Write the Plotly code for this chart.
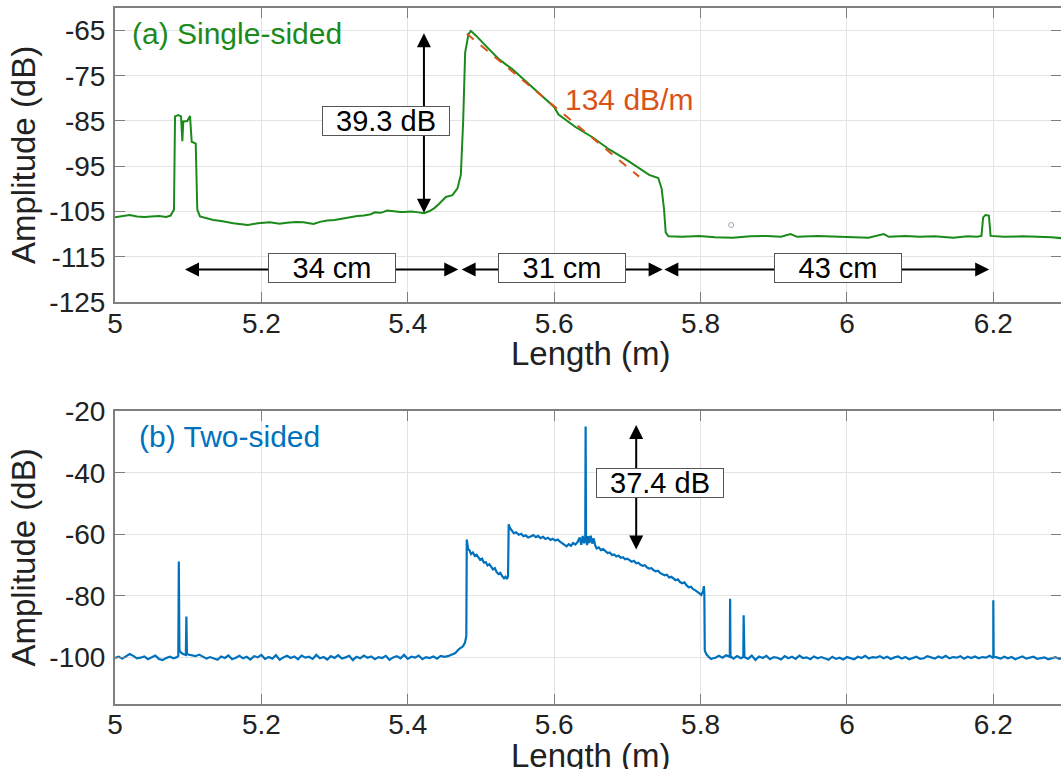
import numpy as np
import plotly.graph_objects as go

# ---------------- data ----------------
# (a) single-sided trace: (length m, amplitude dB)
single_sided = [
    (5.000, -106.3), (5.010, -106.0), (5.020, -105.8), (5.030, -106.1), (5.040, -106.2),
    (5.050, -106.1), (5.060, -106.0), (5.070, -106.2), (5.076, -105.9), (5.0795, -104.9),
    (5.0806, -104.6), (5.0820, -84.0), (5.0865, -83.7), (5.0902, -84.0), (5.0920, -89.5),
    (5.0933, -85.1), (5.0988, -85.0), (5.1025, -83.9), (5.1048, -89.6), (5.1103, -90.0),
    (5.1124, -104.6), (5.1161, -106.1), (5.125, -106.5), (5.1343, -106.9), (5.145, -107.1),
    (5.1616, -107.6), (5.1816, -108.0), (5.195, -107.6), (5.2115, -107.4), (5.225, -107.7),
    (5.2345, -107.5), (5.2475, -107.3), (5.2575, -107.4), (5.2713, -107.75), (5.280, -107.3),
    (5.2897, -107.0), (5.300, -106.9), (5.3126, -106.5), (5.320, -106.3), (5.331, -106.0),
    (5.340, -105.9), (5.3494, -105.6), (5.355, -105.2), (5.3632, -105.3), (5.372, -104.8),
    (5.3816, -105.0), (5.390, -105.1), (5.3954, -105.1), (5.405, -105.0), (5.415, -105.2),
    (5.4221, -105.4), (5.430, -104.9), (5.4368, -104.2), (5.4429, -103.3), (5.452, -101.8),
    (5.4611, -101.4), (5.4679, -99.9), (5.4725, -96.9), (5.4757, -85.0), (5.4784, -69.9),
    (5.4830, -65.8), (5.4861, -65.1), (5.4930, -66.1), (5.5066, -68.4), (5.5249, -71.4),
    (5.5431, -73.6), (5.5613, -76.3), (5.5795, -78.9), (5.6000, -81.9), (5.6060, -83.6),
    (5.6114, -84.2), (5.6296, -86.4), (5.6524, -88.6), (5.6752, -91.3), (5.6980, -93.5),
    (5.7161, -95.4), (5.7298, -96.9), (5.7422, -97.6), (5.7468, -99.9), (5.7501, -104.4),
    (5.7524, -109.6), (5.7561, -110.5), (5.7750, -110.6), (5.7978, -110.4), (5.8200, -110.7),
    (5.8441, -110.8), (5.8680, -110.5), (5.8904, -110.4), (5.9100, -110.6), (5.9229, -110.0),
    (5.9321, -110.6), (5.9600, -110.4), (5.9831, -110.5), (6.0050, -110.7), (6.0295, -110.8),
    (6.0503, -110.0), (6.0573, -110.6), (6.0800, -110.4), (6.0990, -110.6), (6.1200, -110.5),
    (6.1453, -110.8), (6.1650, -110.5), (6.1777, -110.6), (6.1838, -110.4), (6.1861, -106.3),
    (6.1893, -105.8), (6.1940, -105.9), (6.1963, -110.4), (6.2148, -110.6), (6.2400, -110.5),
    (6.2611, -110.6), (6.2800, -110.7), (6.3000, -111.0),
]
# linear fit (dashed) end points
fit_x = [5.4807, 5.7161]
fit_y = [-65.75, -97.3]
stray_x = [5.8419]
stray_y = [-108.0]

# (b) two-sided trace
base_step = 0.005
base_a_start = 5.000
base_a_y = [-100.2, -99.8, -100.4, -99.6, -98.9, -99.5, -100.3, -100.1, -99.7, -100.6,
            -100.0, -99.4, -100.5, -100.9, -100.2, -99.8, -100.3, -99.9]
spikes_a = [(5.0865, -99.5), (5.0872, -68.8), (5.0880, -97.6), (5.0900, -98.4), (5.0930, -98.9),
            (5.0968, -99.2), (5.0975, -86.7), (5.0983, -98.6), (5.1000, -99.1)]
base_b_start = 5.105
base_b_y = [-99.3, -99.6, -99.1, -99.8, -100.4, -99.9, -100.3, -100.8, -99.7, -100.2,
            -99.4, -100.6, -100.1, -99.5, -100.3, -99.8, -100.7, -99.6, -100.0, -99.2,
            -100.5, -99.9, -100.4, -99.3, -100.8, -100.0, -99.5, -100.2, -99.7, -100.6,
            -99.4, -100.1, -99.8, -100.5, -99.2, -100.3, -99.9, -100.7, -99.6, -100.2,
            -99.3, -100.4, -100.0, -99.5, -100.9, -99.8, -100.3, -99.4, -100.1, -99.7,
            -100.6, -99.9, -100.2, -99.5, -100.8, -100.0, -99.6, -100.3, -99.2, -100.5,
            -99.8, -100.1, -99.4, -100.6, -99.9, -100.2, -99.7, -100.4, -99.5, -99.8,
            -99.6, -99.2, -98.6, -97.3]
grating = [
    (5.4755, -96.4), (5.4782, -95.2), (5.4800, -93.0), (5.4806, -61.7), (5.4825, -64.8),
    (5.4845, -65.2), (5.4865, -66.4), (5.4890, -65.9), (5.4915, -67.0), (5.4940, -66.6),
    (5.4966, -67.6), (5.4990, -68.3), (5.5015, -67.9), (5.5040, -69.2), (5.5065, -69.0),
    (5.5090, -70.1), (5.5115, -69.7), (5.5140, -70.8), (5.5165, -71.4), (5.5190, -71.0),
    (5.5215, -72.3), (5.5240, -72.9), (5.5265, -72.5), (5.5290, -73.6), (5.5315, -74.3),
    (5.5335, -73.8), (5.5355, -74.5), (5.5370, -73.6), (5.5379, -56.7), (5.5395, -57.9),
    (5.5425, -58.9), (5.5450, -59.6), (5.5480, -59.3), (5.5517, -60.1), (5.5550, -59.8),
    (5.5580, -60.6), (5.5610, -60.3), (5.5645, -61.0), (5.5680, -60.7), (5.5715, -60.2),
    (5.5750, -60.9), (5.5780, -60.5), (5.5815, -61.2), (5.5850, -60.8), (5.5880, -61.5),
    (5.5915, -61.1), (5.5950, -61.8), (5.5980, -61.4), (5.6015, -62.0), (5.6050, -61.7),
    (5.6080, -62.4), (5.6110, -62.9), (5.6140, -63.6), (5.6170, -63.9), (5.6200, -63.2),
    (5.6230, -63.7), (5.6260, -62.8), (5.6290, -63.3), (5.6320, -62.5), (5.6350, -61.0),
    (5.6370, -63.4), (5.6390, -60.5), (5.6410, -62.9), (5.6425, -61.2), (5.6430, -24.9),
    (5.6436, -61.0), (5.6450, -63.5), (5.6465, -60.6), (5.6480, -62.8), (5.6500, -60.4),
    (5.6520, -63.0), (5.6540, -61.3), (5.6560, -63.5), (5.6580, -64.6), (5.6610, -64.2),
    (5.6640, -65.1), (5.6670, -64.8), (5.6700, -65.6), (5.6730, -66.1), (5.6760, -65.9),
    (5.6790, -66.7), (5.6820, -66.5), (5.6850, -67.2), (5.6880, -66.9), (5.6910, -67.6),
    (5.6940, -67.4), (5.6970, -68.1), (5.7000, -67.9), (5.7030, -68.5), (5.7060, -68.9),
    (5.7090, -68.6), (5.7120, -69.4), (5.7150, -69.2), (5.7180, -69.9), (5.7210, -70.2),
    (5.7240, -70.0), (5.7270, -70.8), (5.7300, -71.1), (5.7330, -71.0), (5.7360, -71.7),
    (5.7390, -72.0), (5.7420, -71.8), (5.7450, -72.6), (5.7480, -72.9), (5.7510, -73.3),
    (5.7540, -73.1), (5.7570, -74.0), (5.7600, -73.8), (5.7630, -74.4), (5.7660, -74.9),
    (5.7690, -74.6), (5.7720, -75.5), (5.7750, -75.9), (5.7780, -75.6), (5.7810, -76.6),
    (5.7840, -77.2), (5.7870, -77.0), (5.7900, -77.8), (5.7930, -78.2), (5.7960, -78.9),
    (5.7990, -79.3), (5.8010, -79.7), (5.8035, -78.5), (5.8046, -76.8), (5.8052, -79.5),
    (5.8058, -97.8), (5.8080, -99.0), (5.8110, -99.8), (5.8145, -100.5), (5.8180, -100.2),
]
base_c_start = 5.820
base_c_y = [-100.2, -99.5, -100.1, -99.3, -99.8, -100.4, -99.6, -100.3, -99.9, -100.5,
            -99.4, -100.8, -99.7, -100.2, -99.5, -100.6, -99.9, -100.1, -100.7, -99.6,
            -100.3, -99.8, -100.5, -99.4, -100.2, -100.0, -100.6, -99.7, -100.3, -99.9,
            -100.4, -100.8, -99.8, -100.5, -100.1, -100.7, -99.9, -100.3, -100.6, -99.8,
            -100.2, -99.5, -100.4, -99.9, -100.1, -99.6, -100.3, -99.8, -100.5, -100.0,
            -99.7, -100.4, -99.9, -100.6, -100.2, -99.8, -100.5, -100.3, -99.6, -100.1,
            -100.4, -99.7, -100.2, -99.5, -100.3, -99.9, -100.1, -99.6, -100.4, -99.8,
            -100.2, -99.7, -100.3, -99.9, -100.1, -99.5, -100.2, -100.0, -100.4, -99.8,
            -100.3, -99.9, -100.6, -100.1, -99.7, -100.4, -100.2, -99.8, -100.5, -100.3,
            -100.0, -100.6, -100.2, -99.9, -100.5, -100.1, -100.4]
spikes_c = [(5.8399, -99.8), (5.8404, -80.9), (5.8409, -99.6),
            (5.8584, -99.9), (5.8589, -86.3), (5.8594, -99.7),
            (6.1995, -100.0), (6.2000, -81.4), (6.2005, -99.8)]

# axes ticks
x_ticks = [5.0, 5.2, 5.4, 5.6, 5.8, 6.0, 6.2]
x_ticklabels = ["5", "5.2", "5.4", "5.6", "5.8", "6", "6.2"]
ya_ticks = [-125, -115, -105, -95, -85, -75, -65]
ya_ticklabels = ["-125", "-115", "-105", "-95", "-85", "-75", "-65"]
yb_ticks = [-100, -80, -60, -40, -20]
yb_ticklabels = ["-100", "-80", "-60", "-40", "-20"]

# annotation texts
label_a = "(a) Single-sided"
label_b = "(b) Two-sided"
slope_text = "134 dB/m"
dr_a_text = "39.3 dB"
dr_b_text = "37.4 dB"
span_texts = ["34 cm", "31 cm", "43 cm"]
x_title = "Length (m)"
y_title = "Amplitude (dB)"

# ---------------- assemble ----------------
def seg(start, ys):
    xs = np.round(start + base_step * np.arange(len(ys)), 4)
    return list(zip(xs.tolist(), ys))

two_sided = (seg(base_a_start, base_a_y) + spikes_a + seg(base_b_start, base_b_y) + grating
             + seg(base_c_start, base_c_y) + spikes_c)
two_sided.sort(key=lambda p: p[0])

GREEN = "#1a8a1a"
BLUE = "#0072BD"
ORANGE = "#D95319"
AXC = "#7f7f7f"
TXT = "#222222"
FONT = "Liberation Sans, Arial, Helvetica, sans-serif"

fig = go.Figure()
fig.add_trace(go.Scatter(x=[p[0] for p in single_sided], y=[p[1] for p in single_sided],
                         mode="lines", line=dict(color=GREEN, width=2), xaxis="x", yaxis="y"))
fig.add_trace(go.Scatter(x=fit_x, y=fit_y, mode="lines",
                         line=dict(color=ORANGE, width=2, dash="dash"), xaxis="x", yaxis="y"))
fig.add_trace(go.Scatter(x=stray_x, y=stray_y, mode="markers",
                         marker=dict(symbol="circle-open", size=5, color="#a0a8c0", line=dict(width=1)),
                         xaxis="x", yaxis="y"))
fig.add_trace(go.Scatter(x=[p[0] for p in two_sided], y=[p[1] for p in two_sided],
                         mode="lines", line=dict(color=BLUE, width=2.2), xaxis="x2", yaxis="y2"))

W, H = 1061, 769
XL = 115 / W
XR = 1.0
XRANGE = [5.0, 6.2925]

common_x = dict(domain=[XL, XR], range=XRANGE, tickvals=x_ticks, ticktext=x_ticklabels,
                ticks="inside", ticklen=10, tickwidth=1, tickcolor=AXC, automargin=False,
                showline=True, linecolor=AXC, linewidth=2, mirror="ticks",
                showgrid=True, gridcolor="#e3e3e3", gridwidth=1, zeroline=False,
                tickfont=dict(size=28, color=TXT, family=FONT), ticklabelstandoff=-5)
common_y = dict(ticks="inside", ticklen=10, tickwidth=1, tickcolor=AXC, automargin=False,
                showline=True, linecolor=AXC, linewidth=2, mirror="ticks",
                showgrid=True, gridcolor="#e3e3e3", gridwidth=1, zeroline=False,
                tickfont=dict(size=28, color=TXT, family=FONT), ticklabelstandoff=2)

fig.update_layout(
    width=W, height=H, margin=dict(l=0, r=0, t=0, b=0, autoexpand=False),
    paper_bgcolor="white", plot_bgcolor="white", showlegend=False,
    font=dict(family=FONT, color=TXT),
    xaxis=dict(anchor="y", **common_x),
    xaxis2=dict(anchor="y2", **common_x),
    yaxis=dict(domain=[1 - 302 / H, 1 - 7.8 / H], range=[-125, -60], tickvals=ya_ticks,
               ticktext=ya_ticklabels, anchor="x",
               title=dict(text=y_title, font=dict(size=33, color=TXT), standoff=4), **common_y),
    yaxis2=dict(domain=[1 - 703.5 / H, 1 - 411.4 / H], range=[-115, -20], tickvals=yb_ticks,
                ticktext=yb_ticklabels, anchor="x2",
                title=dict(text=y_title, font=dict(size=33, color=TXT), standoff=4), **common_y),
)

ann = []

def arrow(xref, yref, x_tail, y_tail, x_tip, y_tip):
    ann.append(dict(xref=xref, yref=yref, axref=xref, ayref=yref, x=x_tip, y=y_tip,
                    ax=x_tail, ay=y_tail, text="", showarrow=True, arrowhead=2,
                    arrowsize=1.4, arrowwidth=2, arrowcolor="black"))

def box(xref, yref, x, y, text):
    ann.append(dict(xref=xref, yref=yref, x=x, y=y, text=text, showarrow=False,
                    font=dict(size=29, color="black", family=FONT),
                    bgcolor="white", bordercolor="#555555", borderwidth=1, borderpad=1,
                    width=124, height=26, align="center", valign="middle"))

# (a) vertical dynamic range arrow
arrow("x", "y", 5.4221, -85.1, 5.4221, -65.6)
arrow("x", "y", 5.4221, -85.1, 5.4221, -105.3)
# (a) horizontal length arrows
span_y = -117.8
spans = [(5.0956, 5.2959, 5.4690), (5.4736, 5.6110, 5.7482), (5.7505, 5.9880, 6.1944)]
for (xa, xm, xb) in spans:
    arrow("x", "y", xm, span_y, xa, span_y)
    arrow("x", "y", xm, span_y, xb, span_y)
# (b) vertical arrow
arrow("x2", "y2", 5.7121, -43.4, 5.7121, -24.4)
arrow("x2", "y2", 5.7121, -43.4, 5.7121, -64.9)

box("x", "y", 5.3697, -85.1, dr_a_text)
for (xa, xm, xb), t in zip(spans, span_texts):
    box("x", "y", xm, -117.4, t)
box("x2", "y2", 5.744, -43.4, dr_b_text)

ann.append(dict(xref="x", yref="y", x=5.0207, y=-65.7, xanchor="left", yanchor="middle",
                text=label_a, showarrow=False, font=dict(size=30, color=GREEN, family=FONT)))
ann.append(dict(xref="x", yref="y", x=5.6125, y=-80.2, xanchor="left", yanchor="middle",
                text=slope_text, showarrow=False, font=dict(size=30, color=ORANGE, family=FONT)))
ann.append(dict(xref="x2", yref="y2", x=5.0299, y=-28.2, xanchor="left", yanchor="middle",
                text=label_b, showarrow=False, font=dict(size=30, color=BLUE, family=FONT)))

# x-axis titles
XC = (115 + 1067) / 2 / W
ann.append(dict(xref="paper", yref="paper", x=XC, y=1 - 354 / H, xanchor="center", yanchor="middle",
                text=x_title, showarrow=False, font=dict(size=33, color=TXT, family=FONT)))
ann.append(dict(xref="paper", yref="paper", x=XC, y=1 - 755 / H, xanchor="center", yanchor="middle",
                text=x_title, showarrow=False, font=dict(size=33, color=TXT, family=FONT)))

fig.update_layout(annotations=ann)
fig.write_html("out.html")
